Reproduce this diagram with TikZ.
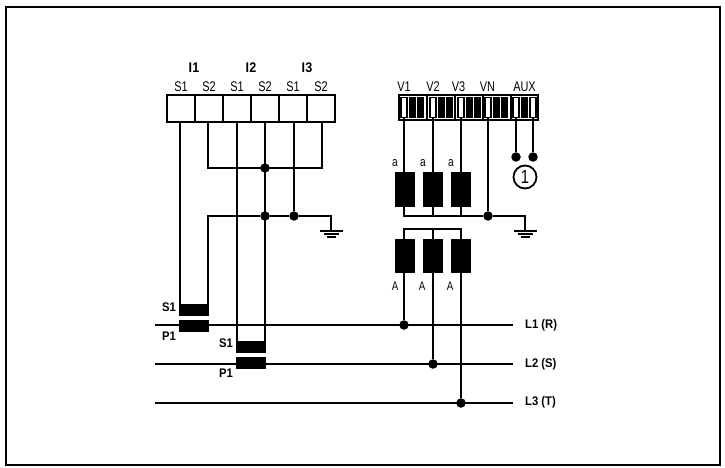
\documentclass[tikz,border=0pt]{standalone}
\usepackage{fontspec}
\newfontfamily\lightfont[FakeStretch=0.78]{Liberation Sans}
\newfontfamily\heavyfont[FakeStretch=0.9]{Liberation Sans Bold}
\usetikzlibrary{positioning}
\definecolor{wirecol}{HTML}{000000}
\tikzset{
  wire/.style={draw=wirecol, line width=2.4pt},
  terminal/.style={draw=wirecol, line width=2.4pt, fill=white, minimum width=28pt, minimum height=27pt, inner sep=0pt, outer sep=0pt},
  vterminal/.style={terminal, minimum height=25pt},
  pinopen/.style={draw=black, line width=1.3pt, fill=white, minimum width=6pt, minimum height=20pt, inner sep=0pt, outer sep=0pt},
  pinshut/.style={fill=black, minimum width=7pt, minimum height=21pt, inner sep=0pt, outer sep=0pt},
  coil/.style={fill=black, minimum width=20pt, minimum height=35pt, inner sep=0pt, outer sep=0pt},
  ctcore/.style={fill=black, minimum width=30pt, minimum height=12pt, inner sep=0pt, outer sep=0pt},
  dot/.style={circle, fill=black, minimum size=9.5pt, inner sep=0pt, outer sep=0pt},
  thin label/.style={font=\fontsize{14}{15}\lightfont, inner sep=0pt},
  bold label/.style={font=\fontsize{12.5}{13}\heavyfont, inner sep=0pt},
}
\newcommand{\earthbars}[1]{\draw[wire, line width=2pt] (#1) ++(-11.5,0) -- ++(23,0) (#1) ++(-7.5,3) -- ++(15,0) (#1) ++(-4.5,6) -- ++(9,0);}

\begin{document}
\begin{tikzpicture}[x=1pt, y=-1pt, on grid]
  \useasboundingbox (0,0) rectangle (725,468);

  % START: Frame -----------------------------------
  \node[draw=wirecol, line width=2.2pt, minimum width=714pt, minimum height=458pt, inner sep=0pt] (frame) at (363,236) {};
  % END: Frame -------------------------------------

  % START: Current terminals -----------------------
  \node[terminal] (t1) at (181,108.5) {};
  \node[terminal, right=28pt of t1] (t2) {};
  \node[terminal, right=28pt of t2] (t3) {};
  \node[terminal, right=28pt of t3] (t4) {};
  \node[terminal, right=28pt of t4] (t5) {};
  \node[terminal, right=28pt of t5] (t6) {};
  \coordinate[left=1pt of t1.south] (t1_w);
  \coordinate[left=1pt of t2.south] (t2_w);
  \coordinate (t3_w) at (t3.south);
  \coordinate (t4_w) at (t4.south);
  \coordinate[right=1pt of t5.south] (t5_w);
  \coordinate[right=1pt of t6.south] (t6_w);
  \node[thin label, above=21.5pt of t1] (t1_s) {S1};
  \node[thin label, above=21.5pt of t2] (t2_s) {S2};
  \node[thin label, above=21.5pt of t3] (t3_s) {S1};
  \node[thin label, above=21.5pt of t4] (t4_s) {S2};
  \node[thin label, above=21.5pt of t5] (t5_s) {S1};
  \node[thin label, above=21.5pt of t6] (t6_s) {S2};
  \node[bold label, font=\fontsize{14}{15}\heavyfont] (i1) at (194,67.5) {I1};
  \node[bold label, font=\fontsize{14}{15}\heavyfont] (i2) at (251,67.5) {I2};
  \node[bold label, font=\fontsize{14}{15}\heavyfont] (i3) at (307,67.5) {I3};
  % END: Current terminals -------------------------

  % START: Voltage terminals -----------------------
  \node[vterminal] (v1) at (413,107.5) {};
  \node[vterminal, right=28pt of v1] (v2) {};
  \node[vterminal, right=28pt of v2] (v3) {};
  \node[vterminal, right=28pt of v3] (vn) {};
  \node[vterminal, minimum width=27pt, right=27.5pt of vn] (aux) {};
  % V1
  \node[pinopen] (v1_p) at (404,107.5) {};
  \node[pinshut, right=8.5pt of v1_p] (v1_q) {};
  \node[pinshut, right=8pt of v1_q] (v1_r) {};
  % V2
  \node[pinopen, right=29pt of v1_p] (v2_p) {};
  \node[pinshut, right=8.5pt of v2_p] (v2_q) {};
  \node[pinshut, right=8pt of v2_q] (v2_r) {};
  % V3
  \node[pinopen, right=28pt of v2_p] (v3_p) {};
  \node[pinshut, right=8.5pt of v3_p] (v3_q) {};
  \node[pinshut, right=8pt of v3_q] (v3_r) {};
  % VN
  \node[pinopen, right=27pt of v3_p] (vn_p) {};
  \node[pinshut, right=8.5pt of vn_p] (vn_q) {};
  \node[pinshut, right=8pt of vn_q] (vn_r) {};
  % AUX
  \node[pinopen, right=28pt of vn_p] (aux_p) {};
  \node[pinshut, right=8.5pt of aux_p] (aux_q) {};
  \node[pinopen, right=8.5pt of aux_q] (aux_r) {};
  \node[thin label, above=20.5pt of v1_p] (v1_t) {V1};
  \node[thin label, above=20.5pt of v2_p] (v2_t) {V2};
  \node[thin label] (v3_t) at (458.5,87) {V3};
  \node[thin label] (vn_t) at (487.5,87) {VN};
  \node[thin label] (aux_t) at (524.5,87) {AUX};
  % END: Voltage terminals -------------------------

  % START: Voltage transformers --------------------
  \node[coil] (up1) at (405,189.5) {};
  \node[coil, right=28pt of up1] (up2) {};
  \node[coil, right=28pt of up2] (up3) {};
  \node[coil, minimum height=34pt] (lo1) at (405,256) {};
  \node[coil, minimum height=34pt, right=28pt of lo1] (lo2) {};
  \node[coil, minimum height=34pt, right=28pt of lo2] (lo3) {};
  \node[thin label, font=\fontsize{13}{14}\lightfont] (up1_a) at (395,163) {a};
  \node[thin label, font=\fontsize{13}{14}\lightfont] (up2_a) at (423,163) {a};
  \node[thin label, font=\fontsize{13}{14}\lightfont] (up3_a) at (451,163) {a};
  \node[bold label, font=\fontsize{12.5}{14}\lightfont] (lo1_a) at (395,286) {A};
  \node[bold label, font=\fontsize{12.5}{14}\lightfont] (lo2_a) at (422,286) {A};
  \node[bold label, font=\fontsize{12.5}{14}\lightfont] (lo3_a) at (450,286) {A};
  % END: Voltage transformers ----------------------

  % START: Current transformers --------------------
  \node[ctcore] (ct1_s) at (194,310) {};
  \node[ctcore, below=16pt of ct1_s] (ct1_p) {};
  \node[ctcore] (ct2_s) at (251,347) {};
  \node[ctcore, below=16pt of ct2_s] (ct2_p) {};
  \node[bold label] (ct1_s_t) at (169,307) {S1};
  \node[bold label] (ct1_p_t) at (169,336) {P1};
  \node[bold label] (ct2_s_t) at (226,343) {S1};
  \node[bold label] (ct2_p_t) at (226,373) {P1};
  % END: Current transformers ----------------------

  % START: Lines -----------------------------------
  \coordinate (l1_a) at (155,325);
  \coordinate (l1_b) at (513,325);
  \coordinate (l2_a) at (155,364);
  \coordinate (l2_b) at (513,364);
  \coordinate (l3_a) at (155,403);
  \coordinate (l3_b) at (513,403);
  \node[bold label, anchor=west] (l1_t) at (525,325) {L1 (R)};
  \node[bold label, anchor=west] (l2_t) at (525,364) {L2 (S)};
  \node[bold label, anchor=west] (l3_t) at (525,402.5) {L3 (T)};
  % END: Lines -------------------------------------

  % START: Junctions -------------------------------
  \node[dot] (j_s2) at (t4_w |- 0,168) {};
  \node[dot] (j_c4) at (t4_w |- 0,216) {};
  \node[dot] (j_c5) at (t5_w |- 0,216) {};
  \node[dot] (j_vn) at (vn_p |- 0,216) {};
  \node[dot] (j_l1) at (v1_p |- l1_a) {};
  \node[dot] (j_l2) at (v2_p |- l2_a) {};
  \node[dot] (j_l3) at (v3_p |- l3_a) {};
  \node[dot] (aux_d1) at (aux_p |- 0,157) {};
  \node[dot] (aux_d2) at (aux_r |- 0,157) {};
  \node[draw=wirecol, line width=1.8pt, circle, minimum size=23pt, inner sep=0pt, font=\fontsize{19}{19}\lightfont] (aux_c) at (525,177) {1};
  \coordinate (gnd1) at (331,231);
  \coordinate (gnd2) at (525,231);
  % END: Junctions ---------------------------------

  % Current side
  \draw[wire] (t1_w) -- (t1_w |- ct1_s.north);
  \draw[wire] (t3_w) -- (t3_w |- ct2_s.north);
  \draw[wire] (t4_w) -- (t4_w |- ct2_s.north);
  \draw[wire] (t5_w) -- (j_c5);
  \draw[wire] (t2_w) -- (t2_w |- j_s2) -- (t6_w |- j_s2) -- (t6_w);
  \draw[wire] (t2_w |- ct1_s.north) -- (t2_w |- j_c4) -- (j_c4) -- (j_c5) -- (gnd1 |- j_c5) -- (gnd1);
  \earthbars{gnd1}

  % Voltage side
  \draw[wire] (v1_p.south) -- (v1_p.south |- up1.north);
  \draw[wire] (v2_p.south) -- (v2_p.south |- up2.north);
  \draw[wire] (v3_p.south) -- (v3_p.south |- up3.north);
  \draw[wire] (vn_p.south) -- (j_vn);
  \draw[wire] (aux_p.south) -- (aux_d1);
  \draw[wire] (aux_r.south) -- (aux_d2);
  \draw[wire] (v1_p.south |- up1.south) -- (v1_p.south |- j_vn) -- (j_vn) -- (gnd2 |- j_vn) -- (gnd2);
  \draw[wire] (v2_p.south |- up2.south) -- (v2_p.south |- j_vn);
  \draw[wire] (v3_p.south |- up3.south) -- (v3_p.south |- j_vn);
  \earthbars{gnd2}
  \draw[wire] (j_l1) -- (v1_p |- 0,229) -- (v3_p |- 0,229) -- (j_l3);
  \draw[wire] (j_l2) -- (v2_p |- 0,229);

  % Lines
  \draw[wire] (l1_a) -- (l1_b);
  \draw[wire] (l2_a) -- (l2_b);
  \draw[wire] (l3_a) -- (l3_b);
\end{tikzpicture}
\end{document}
